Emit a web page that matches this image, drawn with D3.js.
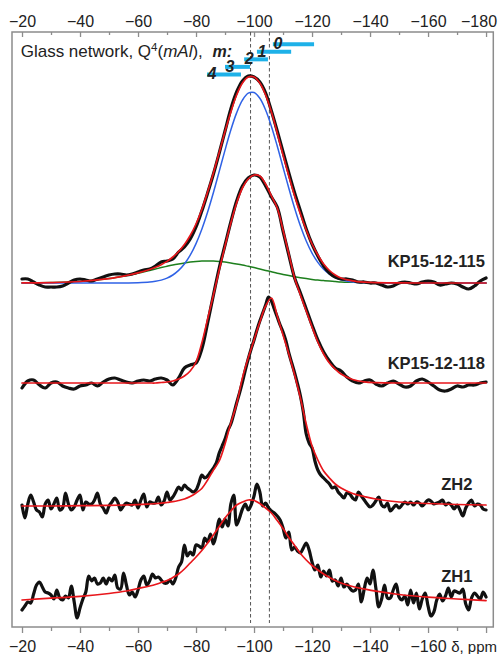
<!DOCTYPE html>
<html><head><meta charset="utf-8">
<script src="https://cdn.jsdelivr.net/npm/d3@7"></script>
<style>
body{margin:0;background:#fff}
svg{display:block;font-family:"Liberation Sans",Arial,sans-serif}
</style>
</head><body>
<svg id="chart" width="498" height="654"></svg>
<script>
// ---------- DATA ----------
const axisTicksMajor = [-20,-40,-60,-80,-100,-120,-140,-160,-180];
const axisTicksMinor = [-30,-50,-70,-90,-110,-130,-150,-170];
const axisUnit = "δ, ppm";
const sampleNames = ["KP15-12-115","KP15-12-118","ZH2","ZH1"];
const refLines = [-98.8, -105.3];
// Q4(mAl) ranges (ppm) for m = 0..4
const mValues = [0,1,2,3,4];
const mStart = [-106.5,-101.0,-96.6,-90.0,-83.8];
const mEnd   = [-120.7,-112.8,-104.8,-98.6,-95.5];

// fitted-curve sampling grid (ppm)
const fitPpm = [-20,-30,-40,-50,-56,-60,-64,-66,-68,-70,-72,-74,-76,-78,-80,-82,-84,-86,-88,-90,-92,-94,-96,-98,-100,-102,-104,-106,-108,-110,-112,-114,-116,-118,-120,-122,-124,-126,-128,-130,-134,-138,-142,-150,-160,-170,-180];
const kp115Fit = [0.1,0.4,1.5,4.4,7.5,10.1,13.5,15.7,18.3,21.6,26,31.5,38.5,47.5,59,73.5,91,110,130.5,151.5,171,188,200,206,206,200,188,171,150,128,107,87,69,53,39,28,19,12.5,8,5,2.2,0.9,0.3,0.1,0,0,0];
const kp115Comp1 = [0,0,0,0,0.1,0.3,0.9,1.7,2.9,4.9,8.0,12.6,19.0,27.8,39.4,53.8,71.0,90.5,111.6,132.9,153.0,170.1,182.8,189.8,190.5,184.7,173.0,156.6,137.0,115.8,94.7,74.7,57.0,42.0,29.9,20.6,13.7,8.8,5.5,3.3,1.1,0.3,0.1,0,0,0,0];
const kp115Comp2 = [0.1,0.4,1.5,4.4,7.4,9.8,12.6,14.0,15.4,16.7,18.0,19.1,20.1,20.9,21.5,21.9,22.0,21.9,21.5,20.9,20.1,19.1,18.0,16.7,15.4,14.0,12.6,11.2,9.8,8.6,7.4,6.3,5.3,4.4,3.6,2.9,2.4,1.9,1.5,1.1,0.7,0.4,0.2,0.1,0,0,0];
const kp118Fit = [0,0,0,0,0,0,0,0,0.5,1,2,4,7,12,21,40,64,88,113,137,160,180,195,204,208,207,199,187,175,153,129,105,88,72,56,41,29,20,14,9,3.5,1.2,0.4,0,0,0,0];
const zh2Fit = [0,0,0.3,0.6,1,1.3,2,2.4,2.8,3.5,4.3,5.5,7,9.5,13,17.5,26,36,45,62,83,102,128,148,166,184,200,208,190,171,152,131,108,82,60,46,35,28,22,18,12.5,9.5,7,4,2.5,1.5,1];
const zh1Fit = [0,1.8,3.6,6.5,9,11.5,14,15.5,17.5,19.5,22.5,26,31,37,43,49.5,57,65,73.5,82,89,95,98,100,99.5,96.5,92,87,79.5,71.5,62.5,54.5,46.5,40,34.5,30,26,22.5,19.5,17,13.5,11,8.8,5.5,2.8,1,-0.7];

// measured spectra: KP at 2 ppm steps (-20..-180), ZH at 1 ppm steps (-20..-180)
const kp115Spectrum = [4,4,1,-2,-4,-4,-4,-3,0,3, 4,3,2,4,6,8,9,9,8,9, 11,13,14,17,21,22,24,31,36,44, 56,72,90,109,130,152,174,191,202,207, 206,201,190,172,152,131,110,90,72,54, 39,27,17,10,6,4,4,3,1,1, 0,0,-2,-4,-3,0,1,0,-1,1, 2,1,-2,-1,0,-1,-4,-6,-3,2, 5];
const kp118Spectrum = [-5,2,3,-2,-5,0,1,-3,-5,-6, -3,-2,0,-3,1,4,5,3,1,0, 2,3,2,4,5,3,-2,5,15,18, 20,34,60,88,115,138,161,182,197,205, 208,206,197,186,176,152,128,105,90,74, 58,43,31,22,15,12,6,2,0,2, 3,-1,-3,0,2,-1,-4,-3,2,4, 1,-3,-7,-8,-6,-3,-4,-2,-2,0, 1];
const zh2Spectrum = [1,-12,2,11,4,-4,-6,-11,2,6, -3,2,8,-4,-2,13,2,-4,-1,6, 11,-4,4,2,2,6,13,2,-2,-7, 0,4,8,4,-4,0,3,2,1,6, -2,6,12,-1,4,3,3,9,1,5, 14,6,9,14,19,16,21,18,16,14, 16,23,31,28,30,34,38,43,53,60, 67,76,82,92,103,113,124,136,147,157, 166,176,185,193,201,209,205,197,189,181, 174,165,153,143,133,122,110,94,72,63, 58,45,36,31,28,25,22,18,19,14, 11,8,13,12,8,6,14,10,6,2, -1,1,5,9,1,-1,3,-5,-2,1, -2,1,4,2,4,1,4,3,0,3, 6,5,2,3,4,6,1,3,1,-3, 1,-4,-10,-2,3,6,0,2,1,-3, -4];
const zh1Spectrum = [-10,-6,-2,-3,6,15,18,13,8,7, 5,1,10,2,0,4,2,14,-2,-18, -8,1,8,24,19,22,16,17,22,16, 22,19,25,12,11,27,15,5,8,3, 10,20,24,15,19,26,22,23,20,17, 17,20,16,22,33,38,55,44,48,45, 55,54,52,62,58,66,56,66,81,73, 81,74,96,105,75,82,91,96,90,95, 104,116,108,94,97,92,89,87,84,80, 72,62,68,50,53,49,47,52,57,50, 38,30,35,23,29,24,30,19,20,14, 22,13,16,12,9,10,16,-2,11,22, 16,30,12,-7,1,15,2,2,10,16, 3,0,4,-5,10,-3,7,-9,1,7, -6,-16,-12,0,6,-1,4,12,3,9, 8,7,11,-4,-10,2,7,4,1,8, 3];

// ---------- LAYOUT ----------
const svg = d3.select("#chart");
const frame = {left:12, right:493.3, top:32, bottom:627};
const x = d3.scaleLinear().domain([-16.55,-182.5]).range([frame.left, frame.right]);
const y = d3.scaleLinear().domain([0,595]).range([frame.bottom, frame.top]);
const mRow = d3.scalePoint().domain(mValues).range([44.3,74.4]);

const ppm2 = d3.range(-20,-181,-2);
const ppm1 = d3.range(-20,-181,-1);

const spectra = [
  {name:sampleNames[0], base:344, ppm:ppm2, data:kp115Spectrum, fit:kp115Fit, labelPpm:-179.6, labelLift:15.6},
  {name:sampleNames[1], base:244, ppm:ppm2, data:kp118Spectrum, fit:kp118Fit, labelPpm:-179.6, labelLift:14},
  {name:sampleNames[2], base:121, ppm:ppm1, data:zh2Spectrum, fit:zh2Fit, labelPpm:-175.3, labelLift:16},
  {name:sampleNames[3], base:27,  ppm:ppm1, data:zh1Spectrum, fit:zh1Fit, labelPpm:-175.3, labelLift:18.5}
];

const textCol = "#222";
const frameCol = "#8c8c8c";

// frame
svg.append("rect")
  .attr("x",frame.left).attr("y",frame.top)
  .attr("width",frame.right-frame.left).attr("height",frame.bottom-frame.top)
  .attr("fill","none").attr("stroke",frameCol).attr("stroke-width",1.5);

// axes
const fmt = d3.format("d");
const topAxis = svg.append("g").attr("transform",`translate(0,${frame.top})`)
  .call(d3.axisTop(x).tickValues(axisTicksMajor).tickSize(-5).tickPadding(4.7).tickFormat(fmt));
const topMinor = svg.append("g").attr("transform",`translate(0,${frame.top})`)
  .call(d3.axisTop(x).tickValues(axisTicksMinor).tickSize(-3).tickFormat(""));
const botAxis = svg.append("g").attr("transform",`translate(0,${frame.bottom})`)
  .call(d3.axisBottom(x).tickValues(axisTicksMajor).tickSize(6).tickPadding(7.3)
        .tickFormat(d => d === -180 ? "" : fmt(d)));
const botMinor = svg.append("g").attr("transform",`translate(0,${frame.bottom})`)
  .call(d3.axisBottom(x).tickValues(axisTicksMinor).tickSize(4).tickFormat(""));
[topAxis,topMinor,botAxis,botMinor].forEach(g=>{
  g.select(".domain").remove();
  g.selectAll(".tick line").attr("stroke",frameCol).attr("stroke-width",1.3);
  g.selectAll(".tick text").attr("fill",textCol).attr("font-size",16)
   .attr("font-family",'"Liberation Sans",Arial,sans-serif');
});
topAxis.selectAll(".tick").filter(d=>d===-180).select("text")
  .attr("text-anchor","end").attr("dx",10.5);
svg.append("text").attr("x",497).attr("y",651.7).attr("text-anchor","end")
  .attr("fill",textCol).attr("font-size",15).text(axisUnit);

// reference dashed lines
svg.append("g").selectAll("line").data(refLines).join("line")
  .attr("x1",d=>x(d)).attr("x2",d=>x(d))
  .attr("y1",frame.top).attr("y2",623)
  .attr("stroke","#555").attr("stroke-width",1).attr("stroke-dasharray","3.5,2.5");

// spectra
const line = (ppm) => d3.line().x((d,i)=>x(ppm[i])).y(d=>d).curve(d3.curveCatmullRom.alpha(0.5));
function drawCurve(ppm, vals, base, color, width){
  svg.append("path")
    .attr("d", line(ppm)(vals.map(v=>y(base+v))))
    .attr("fill","none").attr("stroke",color).attr("stroke-width",width)
    .attr("stroke-linejoin","round").attr("stroke-linecap","round");
}
drawCurve(fitPpm, kp115Comp2, spectra[0].base, "#1d7f1d", 1.5);
drawCurve(fitPpm, kp115Comp1, spectra[0].base, "#2f62e6", 1.5);
spectra.forEach(s=> drawCurve(s.ppm, s.data, s.base, "#111", 3.2));
spectra.forEach(s=> drawCurve(fitPpm, s.fit, s.base, "#e8161b", 1.7));

// sample labels
svg.append("g").selectAll("text").data(spectra).join("text")
  .attr("x",d=>x(d.labelPpm)).attr("y",d=>y(d.base+d.labelLift))
  .attr("text-anchor","end").attr("font-weight","bold").attr("font-size",16.5)
  .attr("fill",textCol).text(d=>d.name);

// title
const title = svg.append("text").attr("x",20.7).attr("y",57).attr("font-size",17).attr("fill",textCol);
title.append("tspan").text("Glass network, Q");
title.append("tspan").attr("font-size",11.5).attr("dy",-6.5).text("4");
title.append("tspan").attr("dy",6.5).text("(");
title.append("tspan").attr("font-style","italic").text("mAl");
title.append("tspan").text("),");
title.append("tspan").attr("x",212.5).attr("y",56.5).attr("font-size",16)
  .attr("font-style","italic").attr("font-weight","bold").text("m:");

// Q4(mAl) bars
const bars = mValues.map((m,i)=>({m, a:mStart[i], b:mEnd[i]}));
svg.append("g").selectAll("line").data(bars).join("line")
  .attr("x1",d=>x(d.a)).attr("x2",d=>x(d.b))
  .attr("y1",d=>mRow(d.m)).attr("y2",d=>mRow(d.m))
  .attr("stroke","#1eb1e8").attr("stroke-width",4);
svg.append("g").selectAll("text").data(bars).join("text")
  .attr("x",d=>x(d.a)+5).attr("y",d=>mRow(d.m)+5)
  .attr("text-anchor","middle").attr("font-size",16).attr("font-weight","bold")
  .attr("font-style","italic").attr("fill",textCol).text(d=>d.m);
</script>
</body></html>
